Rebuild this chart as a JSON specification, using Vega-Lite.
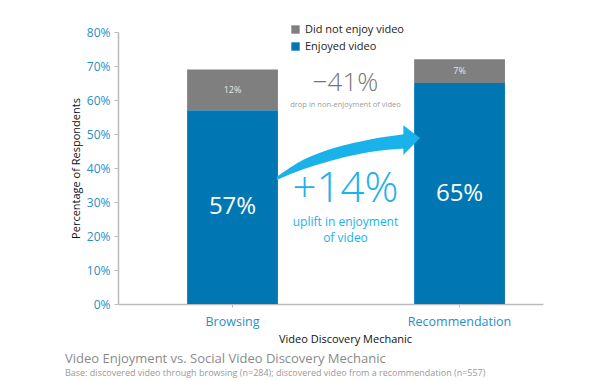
{
  "$schema": "https://vega.github.io/schema/vega-lite/v6.json",
  "width": 425,
  "height": 272,
  "autosize": "none",
  "padding": {"left": 118, "top": 32, "right": 72, "bottom": 77},
  "background": "white",
  "config": {
    "view": {"stroke": null},
    "font": "Open Sans",
    "axisY": {"labelColor": "#2a8ec6", "labelFontSize": 12, "tickColor": "#bbbbbb", "domainColor": "#bbbbbb", "domainWidth": 1.5, "tickSize": 4, "grid": false, "labelPadding": 4, "titleFontSize": 11, "titleFontWeight": "normal", "titleColor": "#111111", "titlePadding": 5, "labelOverlap": false},
    "axisX": {"labelColor": "#2a8ec6", "labelFontSize": 12.5, "tickColor": "#bbbbbb", "domainColor": "#bbbbbb", "domainWidth": 1.5, "tickSize": 3, "labelPadding": 8, "labelAngle": 0, "titleFontSize": 11, "titleFontWeight": "normal", "titleColor": "#111111", "titlePadding": 6}
  },
  "title": {
    "text": "Video Enjoyment vs. Social Video Discovery Mechanic",
    "subtitle": "Base: discovered video through browsing (n=284); discovered video from a recommendation (n=557)",
    "orient": "bottom", "anchor": "start", "frame": "group", "dx": -53, "offset": 8,
    "fontSize": 13, "fontWeight": "normal", "color": "#8a8a8a",
    "subtitleFontSize": 9, "subtitleColor": "#999999", "subtitlePadding": 3
  },
  "datasets": {
    "bars": [
      {"mechanic": "Browsing", "status": "Enjoyed video", "value": 0.57},
      {"mechanic": "Browsing", "status": "Did not enjoy video", "value": 0.12},
      {"mechanic": "Recommendation", "status": "Enjoyed video", "value": 0.65},
      {"mechanic": "Recommendation", "status": "Did not enjoy video", "value": 0.07}
    ],
    "shaft": [
      {"u": 0.197, "top": 0.374, "bot": 0.365},
      {"u": 0.314, "top": 0.424, "bot": 0.396},
      {"u": 0.461, "top": 0.461, "bot": 0.426},
      {"u": 0.608, "top": 0.484, "bot": 0.447},
      {"u": 0.765, "top": 0.500, "bot": 0.457}
    ],
    "head": [
      {"u": 0.755, "top": 0.526, "bot": 0.438},
      {"u": 0.828, "top": 0.488, "bot": 0.488}
    ]
  },
  "layer": [
    {
      "data": {"name": "bars"},
      "layer": [
        {
          "mark": {"type": "bar"},
          "encoding": {
            "x": {"field": "mechanic", "type": "nominal", "sort": ["Browsing", "Recommendation"], "title": "Video Discovery Mechanic",
                  "scale": {"paddingInner": 0.6, "paddingOuter": 0.236, "align": 0.645},
                  "axis": {"titleX": 227}},
            "y": {"field": "value", "type": "quantitative", "stack": "zero", "title": "Percentage of Respondents",
                  "scale": {"domain": [0, 0.8]}, "axis": {"format": ".0%", "values": [0, 0.1, 0.2, 0.3, 0.4, 0.5, 0.6, 0.7, 0.8]}},
            "color": {"field": "status", "type": "nominal",
                      "scale": {"domain": ["Did not enjoy video", "Enjoyed video"], "range": ["#7f7f7f", "#0077b2"]},
                      "legend": {"title": null, "orient": "none", "legendX": 172, "legendY": -8, "symbolType": "square", "symbolSize": 70, "symbolStrokeWidth": 0, "labelFontSize": 11, "labelColor": "#222222", "rowPadding": 5, "labelOffset": 4}},
            "order": {"field": "status", "sort": "descending"}
          }
        },
        {
          "transform": [
            {"stack": "value", "groupby": ["mechanic"], "sort": [{"field": "status", "order": "descending"}], "as": ["v0", "v1"]},
            {"calculate": "(datum.v0 + datum.v1) / 2", "as": "mid"},
            {"filter": "datum.status === 'Enjoyed video'"}
          ],
          "mark": {"type": "text", "color": "white", "fontSize": 24, "baseline": "middle"},
          "encoding": {
            "x": {"field": "mechanic", "type": "nominal", "sort": ["Browsing", "Recommendation"], "title": "Video Discovery Mechanic"},
            "y": {"field": "mid", "type": "quantitative", "title": "Percentage of Respondents", "axis": {"format": ".0%", "values": [0, 0.1, 0.2, 0.3, 0.4, 0.5, 0.6, 0.7, 0.8]}},
            "text": {"field": "value", "type": "quantitative", "format": ".0%"}
          }
        },
        {
          "transform": [
            {"stack": "value", "groupby": ["mechanic"], "sort": [{"field": "status", "order": "descending"}], "as": ["v0", "v1"]},
            {"calculate": "(datum.v0 + datum.v1) / 2", "as": "mid"},
            {"filter": "datum.status === 'Did not enjoy video'"}
          ],
          "mark": {"type": "text", "color": "#e6e6e6", "fontSize": 9, "baseline": "middle"},
          "encoding": {
            "x": {"field": "mechanic", "type": "nominal", "sort": ["Browsing", "Recommendation"], "title": "Video Discovery Mechanic"},
            "y": {"field": "mid", "type": "quantitative", "title": "Percentage of Respondents", "axis": {"format": ".0%", "values": [0, 0.1, 0.2, 0.3, 0.4, 0.5, 0.6, 0.7, 0.8]}},
            "text": {"field": "value", "type": "quantitative", "format": ".0%"}
          }
        }
      ]
    },
    {
      "layer": [
        {
          "data": {"name": "shaft"},
          "mark": {"type": "area", "interpolate": "monotone", "color": "#1ab2ea", "opacity": 1},
          "encoding": {
            "x": {"field": "u", "type": "quantitative", "scale": {"domain": [-0.502, 1.37], "nice": false, "zero": false}, "axis": null},
            "y": {"field": "top", "type": "quantitative", "title": "Percentage of Respondents", "axis": {"format": ".0%", "values": [0, 0.1, 0.2, 0.3, 0.4, 0.5, 0.6, 0.7, 0.8]}},
            "y2": {"field": "bot"}
          }
        },
        {
          "data": {"name": "head"},
          "mark": {"type": "area", "color": "#1ab2ea", "opacity": 1},
          "encoding": {
            "x": {"field": "u", "type": "quantitative", "scale": {"domain": [-0.502, 1.37], "nice": false, "zero": false}, "axis": null},
            "y": {"field": "top", "type": "quantitative", "title": "Percentage of Respondents", "axis": {"format": ".0%", "values": [0, 0.1, 0.2, 0.3, 0.4, 0.5, 0.6, 0.7, 0.8]}},
            "y2": {"field": "bot"}
          }
        },
        {
          "data": {"values": [{"u": 0.5, "y": 0.649, "label": "−41%"}]},
          "mark": {"type": "text", "fontSize": 26, "color": "#777777", "fontWeight": 300, "baseline": "middle"},
          "encoding": {
            "x": {"field": "u", "type": "quantitative", "scale": {"domain": [-0.502, 1.37], "nice": false, "zero": false}, "axis": null},
            "y": {"field": "y", "type": "quantitative", "title": "Percentage of Respondents", "axis": {"format": ".0%", "values": [0, 0.1, 0.2, 0.3, 0.4, 0.5, 0.6, 0.7, 0.8]}},
            "text": {"field": "label"}
          }
        },
        {
          "data": {"values": [{"u": 0.5, "y": 0.586, "label": "drop in non-enjoyment of video"}]},
          "mark": {"type": "text", "fontSize": 7.5, "color": "#9a9a9a", "baseline": "middle"},
          "encoding": {
            "x": {"field": "u", "type": "quantitative", "scale": {"domain": [-0.502, 1.37], "nice": false, "zero": false}, "axis": null},
            "y": {"field": "y", "type": "quantitative", "title": "Percentage of Respondents", "axis": {"format": ".0%", "values": [0, 0.1, 0.2, 0.3, 0.4, 0.5, 0.6, 0.7, 0.8]}},
            "text": {"field": "label"}
          }
        },
        {
          "data": {"values": [{"u": 0.5, "y": 0.338, "label": "+14%"}]},
          "mark": {"type": "text", "fontSize": 42, "color": "#1ab2ea", "fontWeight": 300, "baseline": "middle"},
          "encoding": {
            "x": {"field": "u", "type": "quantitative", "scale": {"domain": [-0.502, 1.37], "nice": false, "zero": false}, "axis": null},
            "y": {"field": "y", "type": "quantitative", "title": "Percentage of Respondents", "axis": {"format": ".0%", "values": [0, 0.1, 0.2, 0.3, 0.4, 0.5, 0.6, 0.7, 0.8]}},
            "text": {"field": "label"}
          }
        },
        {
          "data": {"values": [{"u": 0.5, "y": 0.24, "label": "uplift in enjoyment"}, {"u": 0.5, "y": 0.194, "label": "of video"}]},
          "mark": {"type": "text", "fontSize": 12, "color": "#1ab2ea", "baseline": "middle"},
          "encoding": {
            "x": {"field": "u", "type": "quantitative", "scale": {"domain": [-0.502, 1.37], "nice": false, "zero": false}, "axis": null},
            "y": {"field": "y", "type": "quantitative", "title": "Percentage of Respondents", "axis": {"format": ".0%", "values": [0, 0.1, 0.2, 0.3, 0.4, 0.5, 0.6, 0.7, 0.8]}},
            "text": {"field": "label"}
          }
        }
      ]
    }
  ],
  "resolve": {"scale": {"x": "independent"}}
}
